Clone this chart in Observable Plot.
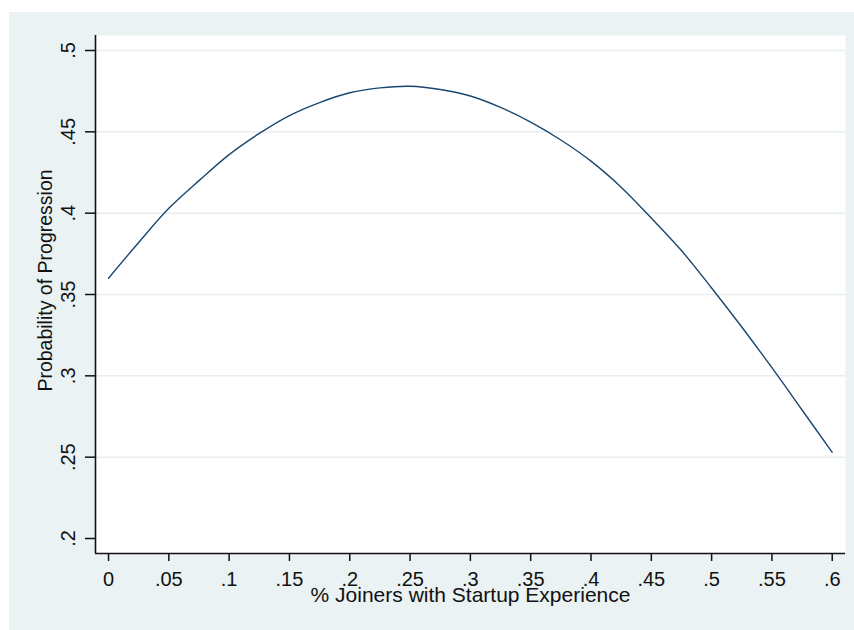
<!DOCTYPE html>
<html>
<head>
<meta charset="utf-8">
<script src="https://cdn.jsdelivr.net/npm/d3@7"></script>
<script src="https://cdn.jsdelivr.net/npm/@observablehq/plot@0.6"></script>
<style>
  html, body { margin: 0; padding: 0; background: #ffffff; }
  #bg { position: absolute; left: 9px; top: 12px; width: 845px; height: 618px; background: #eaf2f3; }
  #chart { position: absolute; left: 0; top: 0; }
</style>
</head>
<body>
<div id="bg"></div>
<div id="chart"></div>
<script>
// Data
const shareJoiners = [0, 0.025, 0.05, 0.075, 0.1, 0.125, 0.15, 0.175, 0.2, 0.225, 0.25, 0.275, 0.3, 0.325, 0.35, 0.375, 0.4, 0.425, 0.45, 0.475, 0.5, 0.525, 0.55, 0.575, 0.6];
const probProgression = [0.360, 0.382, 0.403, 0.420, 0.436, 0.449, 0.460, 0.468, 0.474, 0.477, 0.478, 0.476, 0.472, 0.465, 0.456, 0.445, 0.432, 0.416, 0.397, 0.377, 0.354, 0.330, 0.305, 0.279, 0.253];

const xTicks = [0, 0.05, 0.1, 0.15, 0.2, 0.25, 0.3, 0.35, 0.4, 0.45, 0.5, 0.55, 0.6];
const yTicks = [0.2, 0.25, 0.3, 0.35, 0.4, 0.45, 0.5];
const yGrid = [0.25, 0.3, 0.35, 0.4, 0.45, 0.5];

const xTitle = "% Joiners with Startup Experience";
const yTitle = "Probability of Progression";

const data = shareJoiners.map((x, i) => ({x, y: probProgression[i]}));
const fmt = d => d === 0 ? "0" : String(d).replace(/^0/, "");

const xDomain = [-0.0108, 0.611];
const yDomain = [0.19078, 0.50922];
const font = "'Liberation Sans', Arial, Helvetica, sans-serif";

const chart = Plot.plot({
  width: 854,
  height: 630,
  marginLeft: 95,
  marginRight: 9,
  marginTop: 35,
  marginBottom: 77,
  style: { background: "transparent", fontFamily: font, color: "#000" },
  x: { domain: xDomain },
  y: { domain: yDomain },
  marks: [
    Plot.frame({ fill: "white", stroke: "none" }),
    Plot.gridY(yGrid, { stroke: "#e6eef1", strokeOpacity: 1, strokeWidth: 1.5 }),
    Plot.axisX({ ticks: xTicks, tickSize: 8, tickFormat: () => "", label: null, stroke: "#111", strokeWidth: 1.5 }),
    Plot.axisY({ ticks: yTicks, tickSize: 10, tickFormat: () => "", label: null, stroke: "#111", strokeWidth: 1.5 }),
    Plot.ruleX([xDomain[0]], { stroke: "#111", strokeWidth: 1.6 }),
    Plot.ruleY([yDomain[0]], { stroke: "#111", strokeWidth: 1.6 }),
    Plot.text(xTicks, { x: d => d, text: fmt, frameAnchor: "bottom", dy: 26, lineAnchor: "middle", textAnchor: "middle", fontSize: 20, fill: "#111" }),
    Plot.text(yTicks, { y: d => d, text: fmt, frameAnchor: "left", dx: -27, rotate: -90, lineAnchor: "middle", textAnchor: "middle", fontSize: 20, fill: "#111" }),
    Plot.text([xTitle], { text: d => d, frameAnchor: "bottom", dy: 42, lineAnchor: "middle", textAnchor: "middle", fontSize: 21, fill: "#111" }),
    Plot.text([yTitle], { text: d => d, frameAnchor: "left", dx: -50, dy: -14, rotate: -90, lineAnchor: "middle", textAnchor: "middle", fontSize: 19.5, fill: "#111" }),
    Plot.line(data, { x: "x", y: "y", stroke: "#1a476f", strokeWidth: 1.4, curve: "catmull-rom" })
  ]
});
document.getElementById("chart").appendChild(chart);
</script>
</body>
</html>
